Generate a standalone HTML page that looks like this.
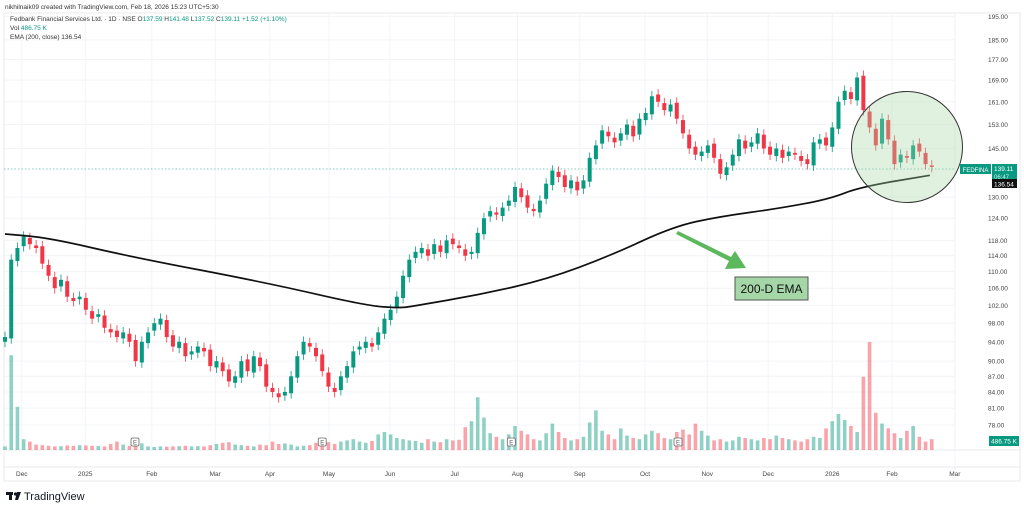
<!DOCTYPE html>
<html><head><meta charset="utf-8">
<style>
body{margin:0;background:#fff;width:1024px;height:511px;overflow:hidden;font-family:"Liberation Sans",sans-serif;}
svg{display:block}
text{font-family:"Liberation Sans",sans-serif;}
</style></head>
<body>
<svg id="chart" width="1024" height="511" viewBox="0 0 1024 511" xmlns="http://www.w3.org/2000/svg">
<text x="5" y="9" font-size="6.5" fill="#333">nikhilnaik09 created with TradingView.com, Feb 18, 2026 15:23 UTC+5:30</text>
<rect x="4" y="13" width="1016" height="468" fill="none" stroke="#e8eaee" stroke-width="1"/>
<line x1="4" y1="450" x2="1020" y2="450" stroke="#e8eaee"/>
<line x1="4" y1="467" x2="1020" y2="467" stroke="#e8eaee"/>
<line x1="955" y1="13" x2="955" y2="481" stroke="#f3f4f7"/>
<g id="grid"></g>
<g id="vol"></g>
<g id="candles"></g>
<path id="ema" fill="none" stroke="#111" stroke-width="1.7"/>
<line x1="4" y1="169" x2="955" y2="169" stroke="#089981" stroke-width="0.6" stroke-dasharray="1.5,2"/>
<circle cx="907" cy="147" r="55.5" fill="rgba(165,214,167,0.35)" stroke="#333" stroke-width="1"/>
<g>
<polygon points="678,231 731,257 735,251 746,268 725,269 729,261 676,234" fill="#5cb85c"/>
</g>
<g>
<rect x="735" y="277" width="73" height="23" fill="#a5d6a7" stroke="#555" stroke-width="1"/>
<text x="771.5" y="293" font-size="12" text-anchor="middle" fill="#111">200-D EMA</text>
</g>
<g id="axis"></g>
<g font-size="6.5">
<text x="10" y="21" fill="#333">Fedbank Financial Services Ltd. · 1D · NSE <tspan fill="#333">O</tspan><tspan fill="#089981">137.59</tspan> <tspan fill="#333">H</tspan><tspan fill="#089981">141.48</tspan> <tspan fill="#333">L</tspan><tspan fill="#089981">137.52</tspan> <tspan fill="#333">C</tspan><tspan fill="#089981">139.11 +1.52 (+1.10%)</tspan></text>
<text x="10" y="30" fill="#333">Vol <tspan fill="#089981">486.75 K</tspan></text>
<text x="10" y="39" fill="#333">EMA (200, close) 136.54</text>
</g>
<g>
<rect x="960" y="164" width="31" height="10" fill="#089981"/>
<text x="975.5" y="172" font-size="6" fill="#fff" text-anchor="middle">FEDFINA</text>
<rect x="992" y="164" width="25" height="18" fill="#089981"/>
<text x="994" y="171" font-size="6.5" fill="#fff">139.11</text>
<text x="994" y="179" font-size="6" fill="#cfeee8">06:47</text>
<rect x="992" y="179" width="25" height="9" fill="#111"/>
<text x="994" y="186.5" font-size="6.5" fill="#fff">136.54</text>
<rect x="989" y="436" width="30" height="10" fill="#089981"/>
<text x="991" y="443.5" font-size="6.5" fill="#fff">486.75 K</text>
</g>
<g>
<rect x="6" y="492" width="7" height="3" fill="#131722"/><rect x="9" y="492" width="3" height="8" fill="#131722"/><circle cx="15.5" cy="494" r="1.6" fill="#131722"/><polygon points="17,492 21,492 18,500 15,500" fill="#131722"/>
<text x="24" y="500" font-size="11" fill="#131722">TradingView</text>
</g>
</svg>
<script>
const closes=[95,113,116,119,117,116,112,109,106,108,104,103,104,101,99,100,97,96,95,96,94,90,94,96,98,99,95,93,94,91,92,93,92,89,90,88,86,87,90,88,91,89,85,84,83,84,87,91,94,93,91,88,85,84,87,89,92,93,94,93,96,99,101,104,109,113,115,116,114,117,115,118,117,116,114,115,120,124,126,125,127,129,133,130,127,126,129,134,138,136,133,135,132,135,142,146,151,149,147,150,153,149,155,157,163,161,158,160,155,150,145,143,144,146,142,137,139,143,148,145,147,150,145,143,145,142,144,143,141,140,147,148,146,152,161,165,162,170,158,152,146,155,148,140,143,142,146,144,140,139.11];
const volumes=[300,7900,3600,900,700,450,400,350,300,320,380,350,400,380,350,330,300,500,700,450,350,600,550,300,250,300,280,300,320,350,300,320,300,400,500,600,650,450,400,350,300,450,400,700,500,550,450,300,350,400,600,550,650,500,700,800,900,700,600,750,1300,1500,1300,1000,900,800,750,600,900,700,650,900,800,850,1900,2400,4400,2700,1400,1100,900,1300,2000,1600,1300,900,800,1400,2200,1500,1000,800,900,1100,2300,3300,1600,1300,900,1800,1200,1000,900,1300,1600,1400,1000,900,1500,1700,1300,2200,1600,1200,800,900,700,800,1100,1000,900,800,1000,900,1200,1000,900,800,700,900,1100,1000,1800,2400,3000,2500,2000,1500,6100,9000,3100,2200,1800,1400,1000,1600,2000,1100,700,900,700,600,1100,700,500];
const emaIdx=[0,7,20.6,42.1,58.2,63.5,65.6,76.4,87.1,97.3,107.4,115,124.6,132.6,137.5,148.7];
const emaVals=[119.7,118.7,113.6,107.3,101.9,101.4,101.8,104.5,108.1,114,121.7,124.5,126.8,129.5,133,136.54];
const monthLabels=["Dec","2025","Feb","Mar","Apr","May","Jun","Jul","Aug","Sep","Oct","Nov","Dec","2026","Feb","Mar"];
const monthIdx=[2.7,12.9,23.6,33.8,42.6,52.1,61.9,72.3,82.4,92.4,102.9,112.9,122.7,133,142.6,152.7];
const priceTicks=[195,185,177,169,161,153,145,130,124,118,114,110,106,102,98,94,90,87,84,81,78];
const earnIdx=[20.9,51,81.4,108.2];

const NS="http://www.w3.org/2000/svg";
const X0=5,STEP=6.22;
const xs=i=>X0+i*STEP;
const ys=p=>425-446*Math.log(p/78);
const vy=v=>450-v*0.012;
function mk(tag,attrs,parent){const e=document.createElementNS(NS,tag);for(const k in attrs)e.setAttribute(k,attrs[k]);parent.appendChild(e);return e;}
const grid=document.getElementById('grid'),axis=document.getElementById('axis'),cg=document.getElementById('candles'),vg=document.getElementById('vol');
priceTicks.forEach(p=>{
  const l=mk('line',{x1:4,x2:955,y1:ys(p),y2:ys(p),stroke:'#f3f4f7'},grid);
  
  
  const t=mk('text',{x:988,y:ys(p)+2.5,'font-size':6.5,fill:'#444'},axis);
  t.textContent=p.toFixed(2);
  
  
});
monthLabels.forEach((m,k)=>{
  const x=xs(monthIdx[k]);
  const l=mk('line',{x1:x,x2:x,y1:13,y2:450,stroke:'#f3f4f7'},grid);
  
  
  const t=mk('text',{x:x,y:476,'font-size':6.5,fill:'#444','text-anchor':'middle'},axis);
  t.textContent=m;
  
  
});
closes.forEach((c,i)=>{
  const o=i===0?94:closes[i-1]*(i%3===0?1.004:0.997);
  const up=c>=o;
  const col=up?'#089981':'#f23645';
  const hi=Math.max(o,c)*1.012,lo=Math.min(o,c)*0.988;
  const x=xs(i);
  const v=mk('rect',{x:x-1.8,y:vy(volumes[i]),width:3.6,height:450-vy(volumes[i]),fill:up?'rgba(8,153,129,0.45)':'rgba(242,54,69,0.45)'},vg);
  
  
  const w=mk('line',{x1:x,x2:x,y1:ys(hi),y2:ys(lo),stroke:col,'stroke-width':0.8},cg);
  
  
  const top=ys(Math.max(o,c)),bot=ys(Math.min(o,c));
  const b=mk('rect',{x:x-2,y:top,width:4,height:Math.max(1,bot-top),fill:col},cg);
  
  
});
earnIdx.forEach(i=>{
  const g=mk('g',{},axis);
  
  
  mk('rect',{x:xs(i)-4,y:438,width:8,height:8,rx:1.5,fill:'#fff',stroke:'#666','stroke-width':0.8},g);
  const t=mk('text',{x:xs(i),y:444.5,'font-size':6,'text-anchor':'middle',fill:'#555'},g);t.textContent='E';
});
let d='';
emaIdx.forEach((ix,k)=>{
  const x=xs(ix),y=ys(emaVals[k]);
  if(k===0){d='M'+x.toFixed(1)+','+y.toFixed(1);}
  else{const px=xs(emaIdx[k-1]),py=ys(emaVals[k-1]);const mx=(px+x)/2;d+=' Q'+px.toFixed(1)+','+py.toFixed(1)+' '+mx.toFixed(1)+','+((py+y)/2).toFixed(1);}
});
d+=' L'+xs(emaIdx[emaIdx.length-1]).toFixed(1)+','+ys(emaVals[emaVals.length-1]).toFixed(1);
document.getElementById('ema').setAttribute('d',d);
</script>
</body></html>
